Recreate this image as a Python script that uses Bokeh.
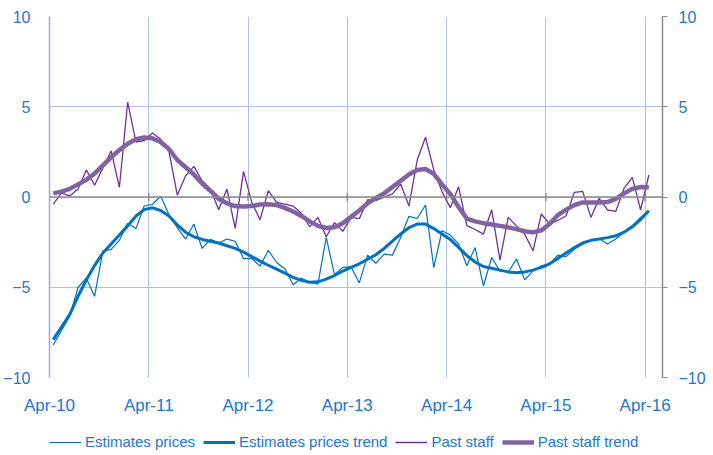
import math
from bokeh.plotting import figure
from bokeh.layouts import column
from bokeh.models import (Range1d, FixedTicker, LinearAxis, Legend, LegendItem,
                          Span, ColumnDataSource)
from bokeh.embed import file_html
from bokeh.resources import INLINE

# ---- data (monthly, Apr-10 .. Apr-16) ----
tick_labels = ["Apr-10", "Apr-11", "Apr-12", "Apr-13", "Apr-14", "Apr-15", "Apr-16"]
tick_months = [0, 12, 24, 36, 48, 60, 72]
y_ticks = [-10, -5, 0, 5, 10]
series_names = ["Estimates prices", "Estimates prices trend", "Past staff", "Past staff trend"]

estimates_prices = [
    -8.2, -7.4, -6.6, -5.0, -4.5, -5.5, -3.0, -2.9, -2.4, -1.45,
    -1.75, -0.5, -0.4, 0.04, -1.0, -1.7, -2.33, -1.5, -2.85, -2.35,
    -2.55, -2.33, -2.45, -3.41, -3.41, -3.83, -2.95, -3.63, -3.97, -4.86,
    -4.5, -4.72, -4.83, -2.24, -4.3, -3.9, -3.87, -4.76, -3.22, -3.67,
    -3.17, -3.22, -2.24, -1.07, -1.19, -0.44, -3.91, -1.87, -2.11, -2.6,
    -3.81, -2.8, -4.93, -3.35, -4.1, -4.15, -3.44, -4.59, -4.09, -3.81,
    -3.72, -3.22, -3.3, -2.89, -2.61, -2.37, -2.3, -2.61, -2.33, -1.96,
    -1.59, -1.13, -0.76]

estimates_prices_trend = [
    -7.9, -7.2, -6.5, -5.5, -4.6, -3.8, -3.1, -2.6, -2.1, -1.6,
    -1.05, -0.7, -0.6, -0.75, -1.05, -1.55, -1.95, -2.2, -2.35, -2.45,
    -2.55, -2.7, -2.85, -3.05, -3.3, -3.55, -3.78, -4.0, -4.22, -4.45,
    -4.62, -4.72, -4.7, -4.55, -4.35, -4.1, -3.9, -3.7, -3.45, -3.2,
    -2.85, -2.45, -2.05, -1.7, -1.5, -1.5, -1.75, -2.05, -2.35, -2.8,
    -3.25, -3.6, -3.85, -3.95, -4.05, -4.15, -4.2, -4.15, -4.05, -3.9,
    -3.7, -3.4, -3.1, -2.8, -2.55, -2.4, -2.33, -2.25, -2.15, -1.95,
    -1.65, -1.25, -0.76]

past_staff = [
    -0.39, 0.22, 0.06, 0.44, 1.5, 0.65, 1.6, 2.55, 0.54, 5.26,
    3.04, 3.13, 3.55, 3.2, 2.5, 0.1, 1.18, 1.7, 0.9, 0.44,
    -0.7, 0.44, -1.74, 1.42, -0.3, -1.26, 0.35, -0.3, -0.4, -0.5,
    -0.9, -1.65, -1.13, -2.2, -1.42, -1.9, -1.13, -1.2, -0.15, -0.2,
    0.0, 0.17, 0.72, -0.5, 2.05, 3.31, 1.5, 0.3, -0.6, 0.57,
    -1.59, -1.8, -2.06, -0.7, -3.5, -1.13, -1.6, -2.06, -2.98, -0.94,
    -1.5, -1.3, -1.04, 0.26, 0.31, -1.13, -0.07, -0.72, -0.8, 0.48,
    1.09, -0.72, 1.22]

past_staff_trend = [
    0.2, 0.3, 0.45, 0.7, 0.95, 1.3, 1.75, 2.2, 2.6, 2.95,
    3.2, 3.3, 3.25, 3.05, 2.65, 2.05, 1.65, 1.25, 0.75, 0.35,
    -0.1, -0.35, -0.5, -0.52, -0.5, -0.42, -0.4, -0.45, -0.6, -0.8,
    -1.05, -1.35, -1.6, -1.72, -1.68, -1.45, -1.1, -0.75, -0.35, -0.05,
    0.2, 0.55, 0.9, 1.25, 1.5, 1.55, 1.28, 0.7, 0.17, -0.55,
    -1.2, -1.35, -1.45, -1.52, -1.6, -1.68, -1.78, -1.9, -1.96, -1.85,
    -1.5, -1.0, -0.7, -0.45, -0.3, -0.3, -0.3, -0.28, -0.1, 0.2,
    0.45, 0.55, 0.54]

months = [i + 0.45 for i in range(len(estimates_prices))]

BLUE = "#0070C0"
PURPLE = "#7030A0"
PURPLE_T = "#8064A2"
TEXT = "#2276D2"
GRID = "#A9C1E3"
FONT = "Liberation Sans"

styles = [dict(line_color=BLUE, line_width=1.2),
          dict(line_color=BLUE, line_width=3),
          dict(line_color=PURPLE, line_width=1.3),
          dict(line_color=PURPLE_T, line_width=4.5)]

p = figure(frame_width=613, frame_height=361,
           output_backend="svg", toolbar_location=None,
           x_range=Range1d(0, 74.1), y_range=Range1d(-10, 10),
           min_border_left=42, min_border_right=0, min_border_top=16,
           min_border_bottom=0)
p.outline_line_color = None
p.background_fill_color = "white"

src = ColumnDataSource(dict(x=months, ep=estimates_prices, ept=estimates_prices_trend,
                            ps=past_staff, pst=past_staff_trend))

# axes
p.xaxis.ticker = FixedTicker(ticks=tick_months)
p.xaxis.major_label_overrides = {m: l for m, l in zip(tick_months, tick_labels)}
p.xaxis.axis_line_color = None
p.xaxis.major_tick_line_color = None
p.xaxis.minor_tick_line_color = None
p.xaxis.major_label_standoff = 12
p.xaxis.major_label_text_font = FONT
p.xaxis.major_label_text_font_size = "17px"
p.xaxis.major_label_text_color = TEXT

p.yaxis.ticker = FixedTicker(ticks=y_ticks)
p.yaxis.axis_line_color = "#A3A3EE"
p.yaxis.axis_line_width = 1.5
p.yaxis.major_tick_line_color = None
p.yaxis.minor_tick_line_color = None
p.yaxis.major_label_standoff = 13
p.yaxis.major_label_text_font = FONT
p.yaxis.major_label_text_font_size = "16px"
p.yaxis.major_label_text_color = TEXT

ry = LinearAxis(ticker=FixedTicker(ticks=y_ticks))
ry.axis_line_color = "#8C8C8C"
ry.axis_line_width = 1.5
ry.major_tick_line_color = "#8C8C8C"
ry.major_tick_in = 0
ry.major_tick_out = 5
ry.minor_tick_line_color = None
ry.major_label_standoff = 11
ry.major_label_text_font = FONT
ry.major_label_text_font_size = "16px"
ry.major_label_text_color = TEXT
p.add_layout(ry, "right")

p.xgrid.grid_line_color = GRID
p.ygrid.grid_line_color = GRID
p.xgrid.grid_line_width = 1
p.ygrid.grid_line_width = 1

zero = Span(location=0, dimension="width", line_color="#8C8C8C", line_width=1.6)
p.add_layout(zero)
p.scatter(x=tick_months, y=[0] * len(tick_months), marker="dash", angle=math.pi / 2,
          size=8, line_color="#8C8C8C", line_width=1.5)

for col, st in zip(["ep", "ept", "ps", "pst"], styles):
    p.line("x", col, source=src, **st)

# ---- legend strip (separate figure beneath the chart) ----
leg = figure(width=707, height=36, output_backend="svg", toolbar_location=None,
             x_range=Range1d(0, 1), y_range=Range1d(0, 1),
             x_axis_type=None, y_axis_type=None,
             min_border_left=0, min_border_right=0, min_border_top=0, min_border_bottom=0)
leg.outline_line_color = None
leg.grid.visible = False
items = []
for name, st in zip(series_names, styles):
    r = leg.line(x=[float("nan")], y=[float("nan")], **st)
    items.append(LegendItem(label=name, renderers=[r]))
legend = Legend(items=items, orientation="horizontal", location=(0, 3),
                glyph_width=32, glyph_height=16, label_height=16,
                label_standoff=4, spacing=8, padding=0, margin=0,
                border_line_color=None, background_fill_alpha=0,
                label_text_font=FONT, label_text_font_size="15px",
                label_text_color=TEXT)
leg.add_layout(legend)

open("out.html", "w").write(file_html(column(p, leg, spacing=0), INLINE))
